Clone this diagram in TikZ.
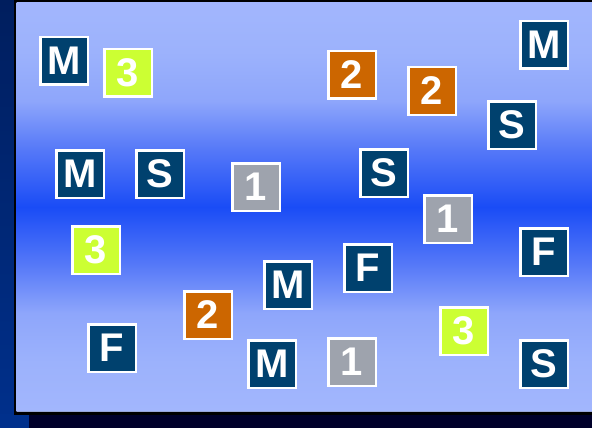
\documentclass[tikz,border=0pt]{standalone}
\usepackage{fontspec}
\setmainfont{Liberation Sans}
\definecolor{navybox}{HTML}{00416E}
\definecolor{lime}{HTML}{CCFF33}
\definecolor{rust}{HTML}{CC6600}
\definecolor{steel}{HTML}{9EA3AD}
\definecolor{bgtop}{HTML}{A2B6FD}
\definecolor{bga}{HTML}{9CB2FC}
\definecolor{bgq}{HTML}{8EA6FB}
\definecolor{bgr}{HTML}{5578F8}
\definecolor{bgmid}{HTML}{1A4CF6}
\definecolor{stripA}{HTML}{001E5E}
\definecolor{stripB}{HTML}{00308C}
\definecolor{bottomdark}{HTML}{00002A}
\pgfdeclareverticalshading{bgshade}{100bp}{color(0bp)=(bgtop); color(25bp)=(bgtop); color(31bp)=(bga); color(37bp)=(bgq); color(43bp)=(bgr); color(50bp)=(bgmid); color(57bp)=(bgr); color(63bp)=(bgq); color(69bp)=(bga); color(75bp)=(bgtop); color(100bp)=(bgtop)}
\tikzset{
  tile/.style={draw=white, line width=2.5pt, minimum size=47.5pt, inner sep=0pt,
    text=white, font=\fontsize{40}{40}\selectfont\bfseries},
  tM/.style={tile, fill=navybox},
  tY/.style={tile, fill=lime},
  tO/.style={tile, fill=rust},
  tG/.style={tile, fill=steel},
}
\begin{document}
\begin{tikzpicture}[x=1pt,y=-1pt]
\useasboundingbox (0,0) rectangle (592,428);
% background layers
\fill[bottomdark] (0,0) rectangle (592,428);
\shade[top color=stripA, bottom color=stripB] (0,0) rectangle (14,428);
\fill[stripB] (0,414) rectangle (29,428);
\fill[black] (14,0) rectangle (592,414.5);
\shade[shading=bgshade] (16.7,3) rectangle (592,411);
\draw[color=bgtop!70!gray, line width=0.8pt] (16.7,411) -- (592,411);
% tiles
\node[tM] (m1) at (64,61) {M};
\node[tY] (y1) at (128,73) {3};
\node[tO] (o1) at (352,75) {2};
\node[tO] (o2) at (432,91) {2};
\node[tM] (m2) at (544,45) {M};
\node[tM] (s1) at (512,125) {S};
\node[tM] (m3) at (80,174) {M};
\node[tM] (s2) at (160,174) {S};
\node[tG] (g1) at (256,187) {1};
\node[tM] (s3) at (384,173) {S};
\node[tG] (g2) at (448,219) {1};
\node[tM] (f1) at (544,252) {F};
\node[tY] (y2) at (96,250) {3};
\node[tM] (f2) at (368,268) {F};
\node[tM] (m4) at (288,285) {M};
\node[tO] (o3) at (208,315) {2};
\node[tM] (f3) at (112,348) {F};
\node[tM] (m5) at (272,364) {M};
\node[tG] (g3) at (352,362) {1};
\node[tY] (y3) at (464,331) {3};
\node[tM] (s4) at (544,364) {S};
\end{tikzpicture}
\end{document}
